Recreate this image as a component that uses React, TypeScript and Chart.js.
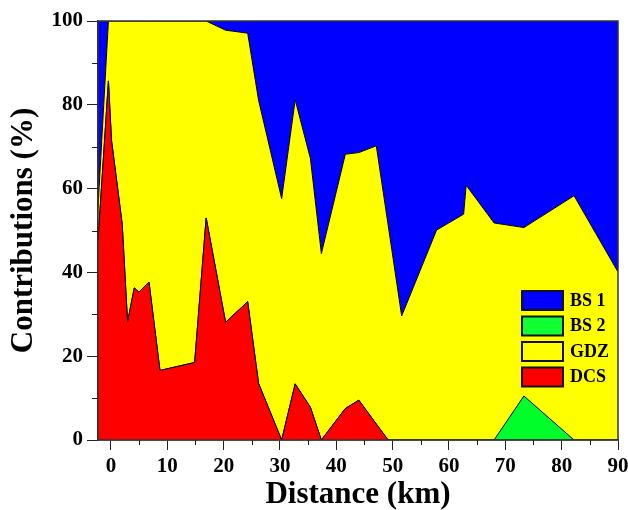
import React, { useEffect, useRef } from "react";
import { Chart, registerables } from "chart.js";

Chart.register(...registerables);

// Distances (km) of the sampled sites
const X_KM = [-2.3, -0.45, 0.1, 2.0, 2.95, 4.14, 4.97, 6.75, 8.7, 14.85, 16.9, 20.35, 24.27, 26.2, 30.3, 32.7, 35.4, 37.35, 41.6, 44.0, 47.1, 49.2, 51.6, 57.8, 62.6, 63.05, 68.0, 73.3, 82.2, 90];
// Contributions (%) per source, stacked bottom-up: DCS, BS2, GDZ, BS1
const DCS = [47.5, 85.7, 71.5, 51.5, 28.2, 36.3, 35.3, 37.7, 16.6, 18.5, 53.0, 28.1, 33.0, 13.5, 0, 13.4, 7.8, 0, 7.5, 9.5, 3.8, 0, 0, 0, 0, 0, 0, 0, 0, 0];
const BS2 = [0, 0, 0, 0, 0, 0, 0, 0, 0, 0, 0, 0, 0, 0, 0, 0, 0, 0, 0, 0, 0, 0, 0, 0, 0, 0, 0, 10.5, 0, 0];
const GDZ = [8.0, 14.3, 28.5, 48.5, 71.8, 63.7, 64.7, 62.3, 83.4, 81.5, 47.0, 69.7, 64.1, 67.6, 57.6, 67.8, 59.4, 44.5, 60.7, 59.1, 66.4, 51.3, 29.6, 50.1, 53.9, 60.8, 51.8, 40.2, 58.3, 40.1];
const BS1 = [44.5, 0, 0, 0, 0, 0, 0, 0, 0, 0, 0, 2.2, 2.9, 18.9, 42.4, 18.8, 32.8, 55.5, 31.8, 31.4, 29.8, 48.7, 70.4, 49.9, 46.1, 39.2, 48.2, 49.3, 41.7, 59.9];

const X_TICKS = [0, 10, 20, 30, 40, 50, 60, 70, 80, 90];
const X_MINOR = [5, 15, 25, 35, 45, 55, 65, 75, 85];
const Y_TICKS = [0, 20, 40, 60, 80, 100];
const Y_MINOR = [10, 30, 50, 70, 90];

const LEGEND_LABELS = ["BS 1", "BS 2", "GDZ", "DCS"];
const LEGEND_COLORS = ["#0000ff", "#11ff33", "#ffff00", "#ff0000"];

const SERIF = "'Liberation Serif', 'Times New Roman', serif";

const extrasPlugin = {
  id: "extras",
  afterDraw(chart: any) {
    const ctx = chart.ctx;
    const { left, right, top, bottom } = chart.chartArea;
    const xs = chart.scales.x;
    const ys = chart.scales.y;
    ctx.save();
    // frame
    ctx.strokeStyle = "#333";
    ctx.lineWidth = 1.5;
    ctx.strokeRect(left, top, right - left, bottom - top);
    // minor ticks
    ctx.strokeStyle = "#222";
    ctx.lineWidth = 1;
    ctx.beginPath();
    X_MINOR.forEach((v) => {
      const px = Math.round(xs.getPixelForValue(v)) + 0.5;
      ctx.moveTo(px, bottom);
      ctx.lineTo(px, bottom + 5);
    });
    Y_MINOR.forEach((v) => {
      const py = Math.round(ys.getPixelForValue(v)) + 0.5;
      ctx.moveTo(left, py);
      ctx.lineTo(left - 6, py);
    });
    ctx.stroke();
    // legend
    const bx = 522;
    const by0 = 291;
    const step = 25.5;
    ctx.font = `bold 18px ${SERIF}`;
    ctx.textBaseline = "middle";
    ctx.textAlign = "left";
    LEGEND_LABELS.forEach((lab, i) => {
      const y = by0 + i * step;
      ctx.fillStyle = LEGEND_COLORS[i];
      ctx.fillRect(bx, y, 41, 19);
      ctx.strokeStyle = "#111";
      ctx.lineWidth = 2;
      ctx.strokeRect(bx, y, 41, 19);
      ctx.fillStyle = "#000";
      ctx.fillText(lab, 570, y + 10);
    });
    ctx.restore();
  },
};

export default function App() {
  const ref = useRef<HTMLCanvasElement>(null);
  useEffect(() => {
    if (!ref.current) return;
    const mk = (arr: number[]) => X_KM.map((x, i) => ({ x, y: arr[i] }));
    const chart = new Chart(ref.current, {
      type: "line",
      data: {
        datasets: [
          { label: "DCS", data: mk(DCS), backgroundColor: "#ff0000", borderColor: "#000", borderWidth: 1, pointRadius: 0, fill: "origin", tension: 0 },
          { label: "BS 2", data: mk(BS2), backgroundColor: "#00ff2a", borderColor: "#000", borderWidth: 1, pointRadius: 0, fill: "-1", tension: 0 },
          { label: "GDZ", data: mk(GDZ), backgroundColor: "#ffff00", borderColor: "#000", borderWidth: 1, pointRadius: 0, fill: "-1", tension: 0 },
          { label: "BS 1", data: mk(BS1), backgroundColor: "#0000ff", borderColor: "#0000ff", borderWidth: 0, pointRadius: 0, fill: "-1", tension: 0 },
        ],
      },
      options: {
        responsive: false,
        animation: false,
        layout: { padding: { left: 0, right: 10, top: 21, bottom: 0 } },
        plugins: { legend: { display: false }, tooltip: { enabled: false } },
        scales: {
          x: {
            type: "linear",
            min: -2.3,
            max: 90,
            afterBuildTicks: (s: any) => {
              s.ticks = X_TICKS.map((v) => ({ value: v }));
            },
            afterFit: (s: any) => {
              s.height = 70;
              s.paddingRight = 0;
              s.paddingLeft = 0;
            },
            grid: { drawOnChartArea: false, drawTicks: true, tickLength: 10, color: "#222" },
            border: { display: true, color: "#333", width: 1.5 },
            ticks: { color: "#000", font: { family: SERIF, size: 21, weight: "bold" }, padding: 4, maxRotation: 0, autoSkip: false },
            title: { display: true, text: "Distance (km)", color: "#000", font: { family: SERIF, size: 31, weight: "bold", lineHeight: 1 }, padding: 0 },
          },
          y: {
            type: "linear",
            stacked: true,
            min: 0,
            max: 100,
            afterBuildTicks: (s: any) => {
              s.ticks = Y_TICKS.map((v) => ({ value: v }));
            },
            afterFit: (s: any) => {
              s.width = 98;
              s.paddingTop = 0;
              s.paddingBottom = 0;
            },
            grid: { drawOnChartArea: false, drawTicks: true, tickLength: 11, color: "#222" },
            border: { display: true, color: "#333", width: 1.5 },
            ticks: { color: "#000", font: { family: SERIF, size: 21, weight: "bold" }, padding: 4 },
            title: { display: true, text: "Contributions (%)", color: "#000", font: { family: SERIF, size: 31, weight: "bold", lineHeight: 1 }, padding: 8 },
          },
        },
      },
      plugins: [extrasPlugin],
    } as any);
    return () => chart.destroy();
  }, []);
  return (
    <canvas
      ref={ref}
      width={628}
      height={510}
      style={{ position: "absolute", left: 0, top: 0, width: 628, height: 510 }}
    />
  );
}
